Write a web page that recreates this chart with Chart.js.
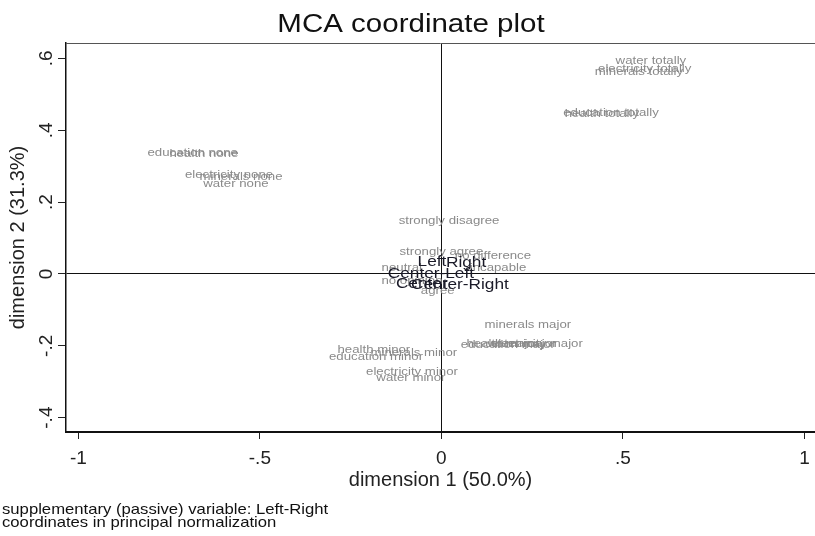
<!DOCTYPE html>
<html><head><meta charset="utf-8">
<script src="https://cdn.jsdelivr.net/npm/chart.js@4/dist/chart.umd.min.js"></script>
<style>html,body{margin:0;padding:0;background:#fff;}canvas{display:block;}</style>
</head><body>
<canvas id="c" width="815" height="536"></canvas>
<script>
// ---- data ----
const activeLabels = [
  'water totally','electricity totally','minerals totally','education totally','health totally',
  'education none','health none','electricity none','minerals none','water none',
  'strongly disagree','strongly agree','no difference','incapable','neutral','no opinion','agree',
  'minerals major','health major','education major','water major','electricity major',
  'health minor','minerals minor','education minor','electricity minor','water minor'
];
const activeX = [0.577,0.560,0.544,0.467,0.442, -0.685,-0.654,-0.585,-0.552,-0.566,
  0.021,0.000,0.142,0.156,-0.109,-0.081,-0.010,
  0.238,0.169,0.183,0.222,0.263, -0.186,-0.076,-0.180,-0.081,-0.084];
const activeY = [0.593,0.571,0.563,0.448,0.446, 0.337,0.334,0.276,0.270,0.251,
  0.148,0.061,0.050,0.017,0.017,-0.019,-0.047,
  -0.142,-0.195,-0.198,-0.195,-0.195, -0.212,-0.220,-0.231,-0.273,-0.290];
const suppLabels = ['Left','Right','Center-Left','Center','Center-Right'];
const suppX = [-0.026,0.068,-0.029,-0.054,0.051];
const suppY = [0.033,0.031,0.000,-0.028,-0.031];
const xTicks = [-1,-0.5,0,0.5,1];
const xTickLabels = ['-1','-.5','0','.5','1'];
const yTicks = [-0.4,-0.2,0,0.2,0.4,0.6];
const yTickLabels = ['-.4','-.2','0','.2','.4','.6'];
const chartTitle = 'MCA coordinate plot';
const xTitle = 'dimension 1 (50.0%)';
const yTitle = 'dimension 2 (31.3%)';
const notes = ['supplementary (passive) variable: Left-Right','coordinates in principal normalization'];

const FONT = '"Liberation Sans", Arial, sans-serif';

function stretchText(ctx, text, x, y, font, color, align, baseline, sx) {
  ctx.save();
  ctx.translate(x, y);
  ctx.scale(sx, 1);
  ctx.font = font;
  ctx.fillStyle = color;
  ctx.textAlign = align;
  ctx.textBaseline = baseline;
  ctx.fillText(text, 0, 0);
  ctx.restore();
}

const pointLabelPlugin = {
  id: 'pointLabelPlugin',
  afterDatasetsDraw(chart) {
    const ctx = chart.ctx;
    chart.data.datasets.forEach((ds, i) => {
      const meta = chart.getDatasetMeta(i);
      meta.data.forEach((pt, j) => {
        stretchText(ctx, ds.pointText[j], pt.x, pt.y, ds.textFont, ds.textColor, 'center', 'middle', 1.15);
      });
    });
  }
};

const decorPlugin = {
  id: 'decorPlugin',
  afterDraw(chart) {
    const ctx = chart.ctx, a = chart.chartArea;
    ctx.save();
    ctx.strokeStyle = '#555';
    ctx.lineWidth = 1;
    ctx.beginPath();
    ctx.moveTo(a.left, a.top + 0.5);
    ctx.lineTo(a.right, a.top + 0.5);
    ctx.stroke();
    ctx.restore();
    stretchText(ctx, chartTitle, 411, 32, '25px ' + FONT, '#111', 'center', 'alphabetic', 1.18);
    stretchText(ctx, notes[0], 2, 514, '14.5px ' + FONT, '#111', 'left', 'alphabetic', 1.15);
    stretchText(ctx, notes[1], 2, 527, '14.5px ' + FONT, '#111', 'left', 'alphabetic', 1.15);
  }
};

new Chart(document.getElementById('c'), {
  type: 'scatter',
  data: {
    datasets: [
      {
        label: 'active',
        data: activeX.map((x, i) => ({x: x, y: activeY[i]})),
        pointRadius: 0,
        pointText: activeLabels,
        textFont: '11.5px ' + FONT,
        textColor: '#8a8a8a'
      },
      {
        label: 'supplementary',
        data: suppX.map((x, i) => ({x: x, y: suppY[i]})),
        pointRadius: 0,
        pointText: suppLabels,
        textFont: '15px ' + FONT,
        textColor: '#1a1a28'
      }
    ]
  },
  options: {
    responsive: false,
    animation: false,
    devicePixelRatio: 1,
    layout: { padding: { top: 43, left: 0, right: 0, bottom: 0 } },
    plugins: { legend: { display: false }, tooltip: { enabled: false }, title: { display: false } },
    scales: {
      x: {
        type: 'linear',
        min: -1.034,
        max: 1.029,
        afterBuildTicks: s => { s.ticks = xTicks.map(v => ({value: v})); },
        afterFit: s => { s.height = 104; s.paddingLeft = 0; s.paddingRight = 0; },
        ticks: {
          callback: (v, i) => xTickLabels[i],
          font: { family: FONT, size: 19 },
          color: '#222',
          padding: 8,
          maxRotation: 0
        },
        grid: {
          color: c => (c.tick && c.tick.value === 0) ? '#111' : 'rgba(0,0,0,0)',
          tickColor: '#222',
          tickLength: 7,
          lineWidth: 1
        },
        border: { display: true, color: '#111', width: 2 },
        title: { display: true, text: xTitle, font: { family: FONT, size: 20 }, color: '#222', padding: { top: 0, bottom: 44 } }
      },
      y: {
        type: 'linear',
        min: -0.440,
        max: 0.643,
        afterBuildTicks: s => { s.ticks = yTicks.map(v => ({value: v})); },
        afterFit: s => { s.width = 66; s.paddingTop = 0; s.paddingBottom = 0; },
        ticks: {
          callback: (v, i) => yTickLabels[i],
          font: { family: FONT, size: 19 },
          color: '#222',
          padding: 0,
          minRotation: 90,
          maxRotation: 90,
          crossAlign: 'center'
        },
        grid: {
          color: c => (c.tick && c.tick.value === 0) ? '#111' : 'rgba(0,0,0,0)',
          tickColor: '#222',
          tickLength: 8,
          lineWidth: 1
        },
        border: { display: true, color: '#111', width: 1.5 },
        title: { display: true, text: yTitle, font: { family: FONT, size: 20 }, color: '#222', padding: { top: 6, bottom: 0 } }
      }
    }
  },
  plugins: [pointLabelPlugin, decorPlugin]
});
</script>
</body></html>
